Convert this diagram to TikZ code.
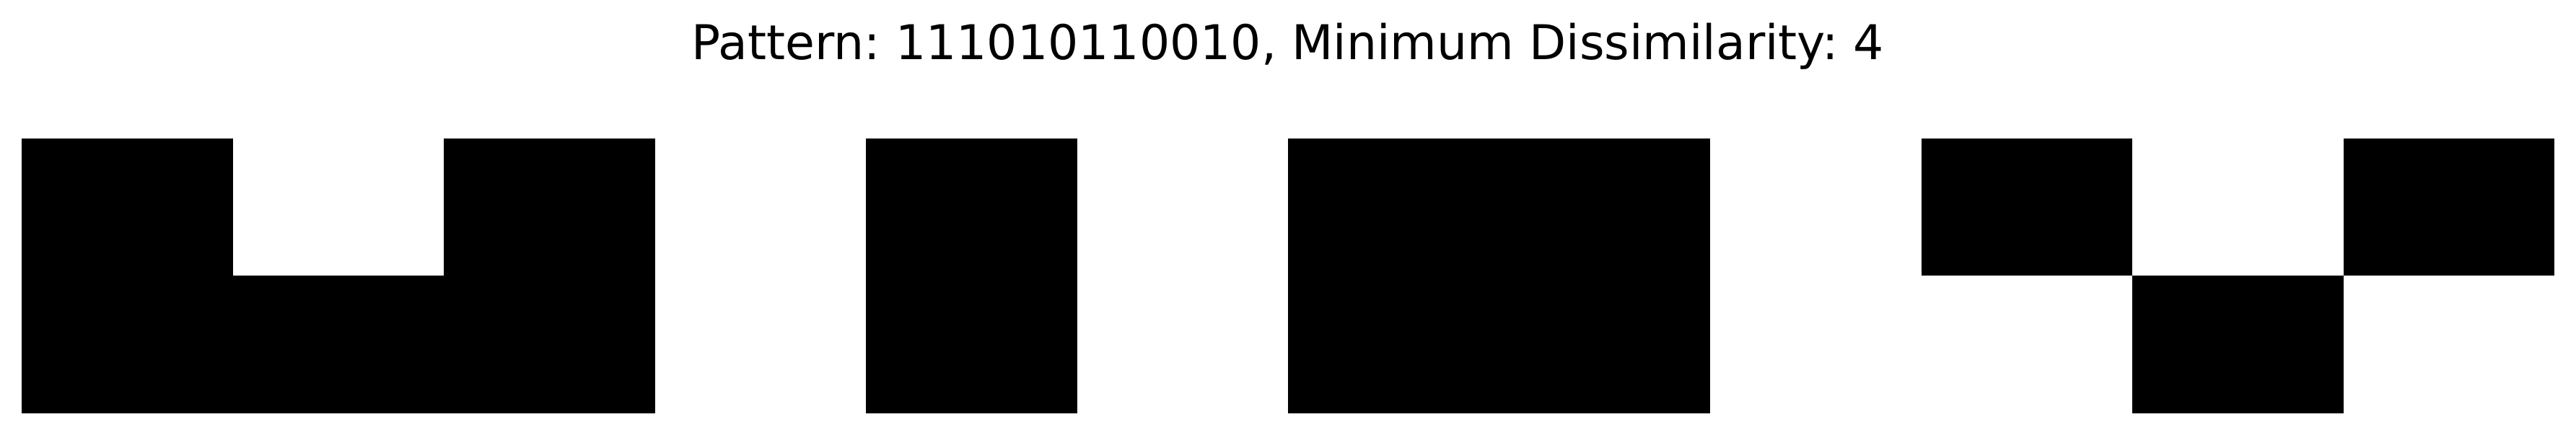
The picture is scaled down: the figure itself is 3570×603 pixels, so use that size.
\documentclass[tikz,border=0pt]{standalone}
\usepackage{fontspec}
\setmainfont{DejaVu Sans}
\usepackage{tikz}
\usepackage{xcolor}

\begin{document}
\begin{tikzpicture}[x=0.1mm,y=0.1mm]
 \useasboundingbox (0,0) rectangle (3570,603);
 \node[anchor=base,inner sep=0pt,font=\fontsize{18.9}{22}\selectfont\frenchspacing] (title) at (1785,520.7) {Pattern: 111010110010, Minimum Dissimilarity: 4};
 
 \path[fill=black] (30,30) rectangle ++(877.5,190.5);
 \path[fill=black] (30,220.5) rectangle ++(292.5,190.5);
 %\path[fill=white] (322.5,220.5) rectangle ++(292.5,190.5);
 \path[fill=black] (615,220.5) rectangle ++(292.5,190.5);
 
 \path[fill=black] (1200,30) rectangle ++(292.5,381);
 
 \path[fill=black] (1785,30) rectangle ++(585,381);
 %%%%%%%%%%%%%%%%%%%%%%%%%%%%%%%%%%%
 \path[fill=black] (2662.5,220.5) rectangle ++(292.5,190.5);
 \path[fill=black] (2955,30) rectangle ++(292.5,190.5);
 \path[fill=black] (3247.5,220.5) rectangle ++(292.5,190.5);

\end{tikzpicture}
\end{document}
